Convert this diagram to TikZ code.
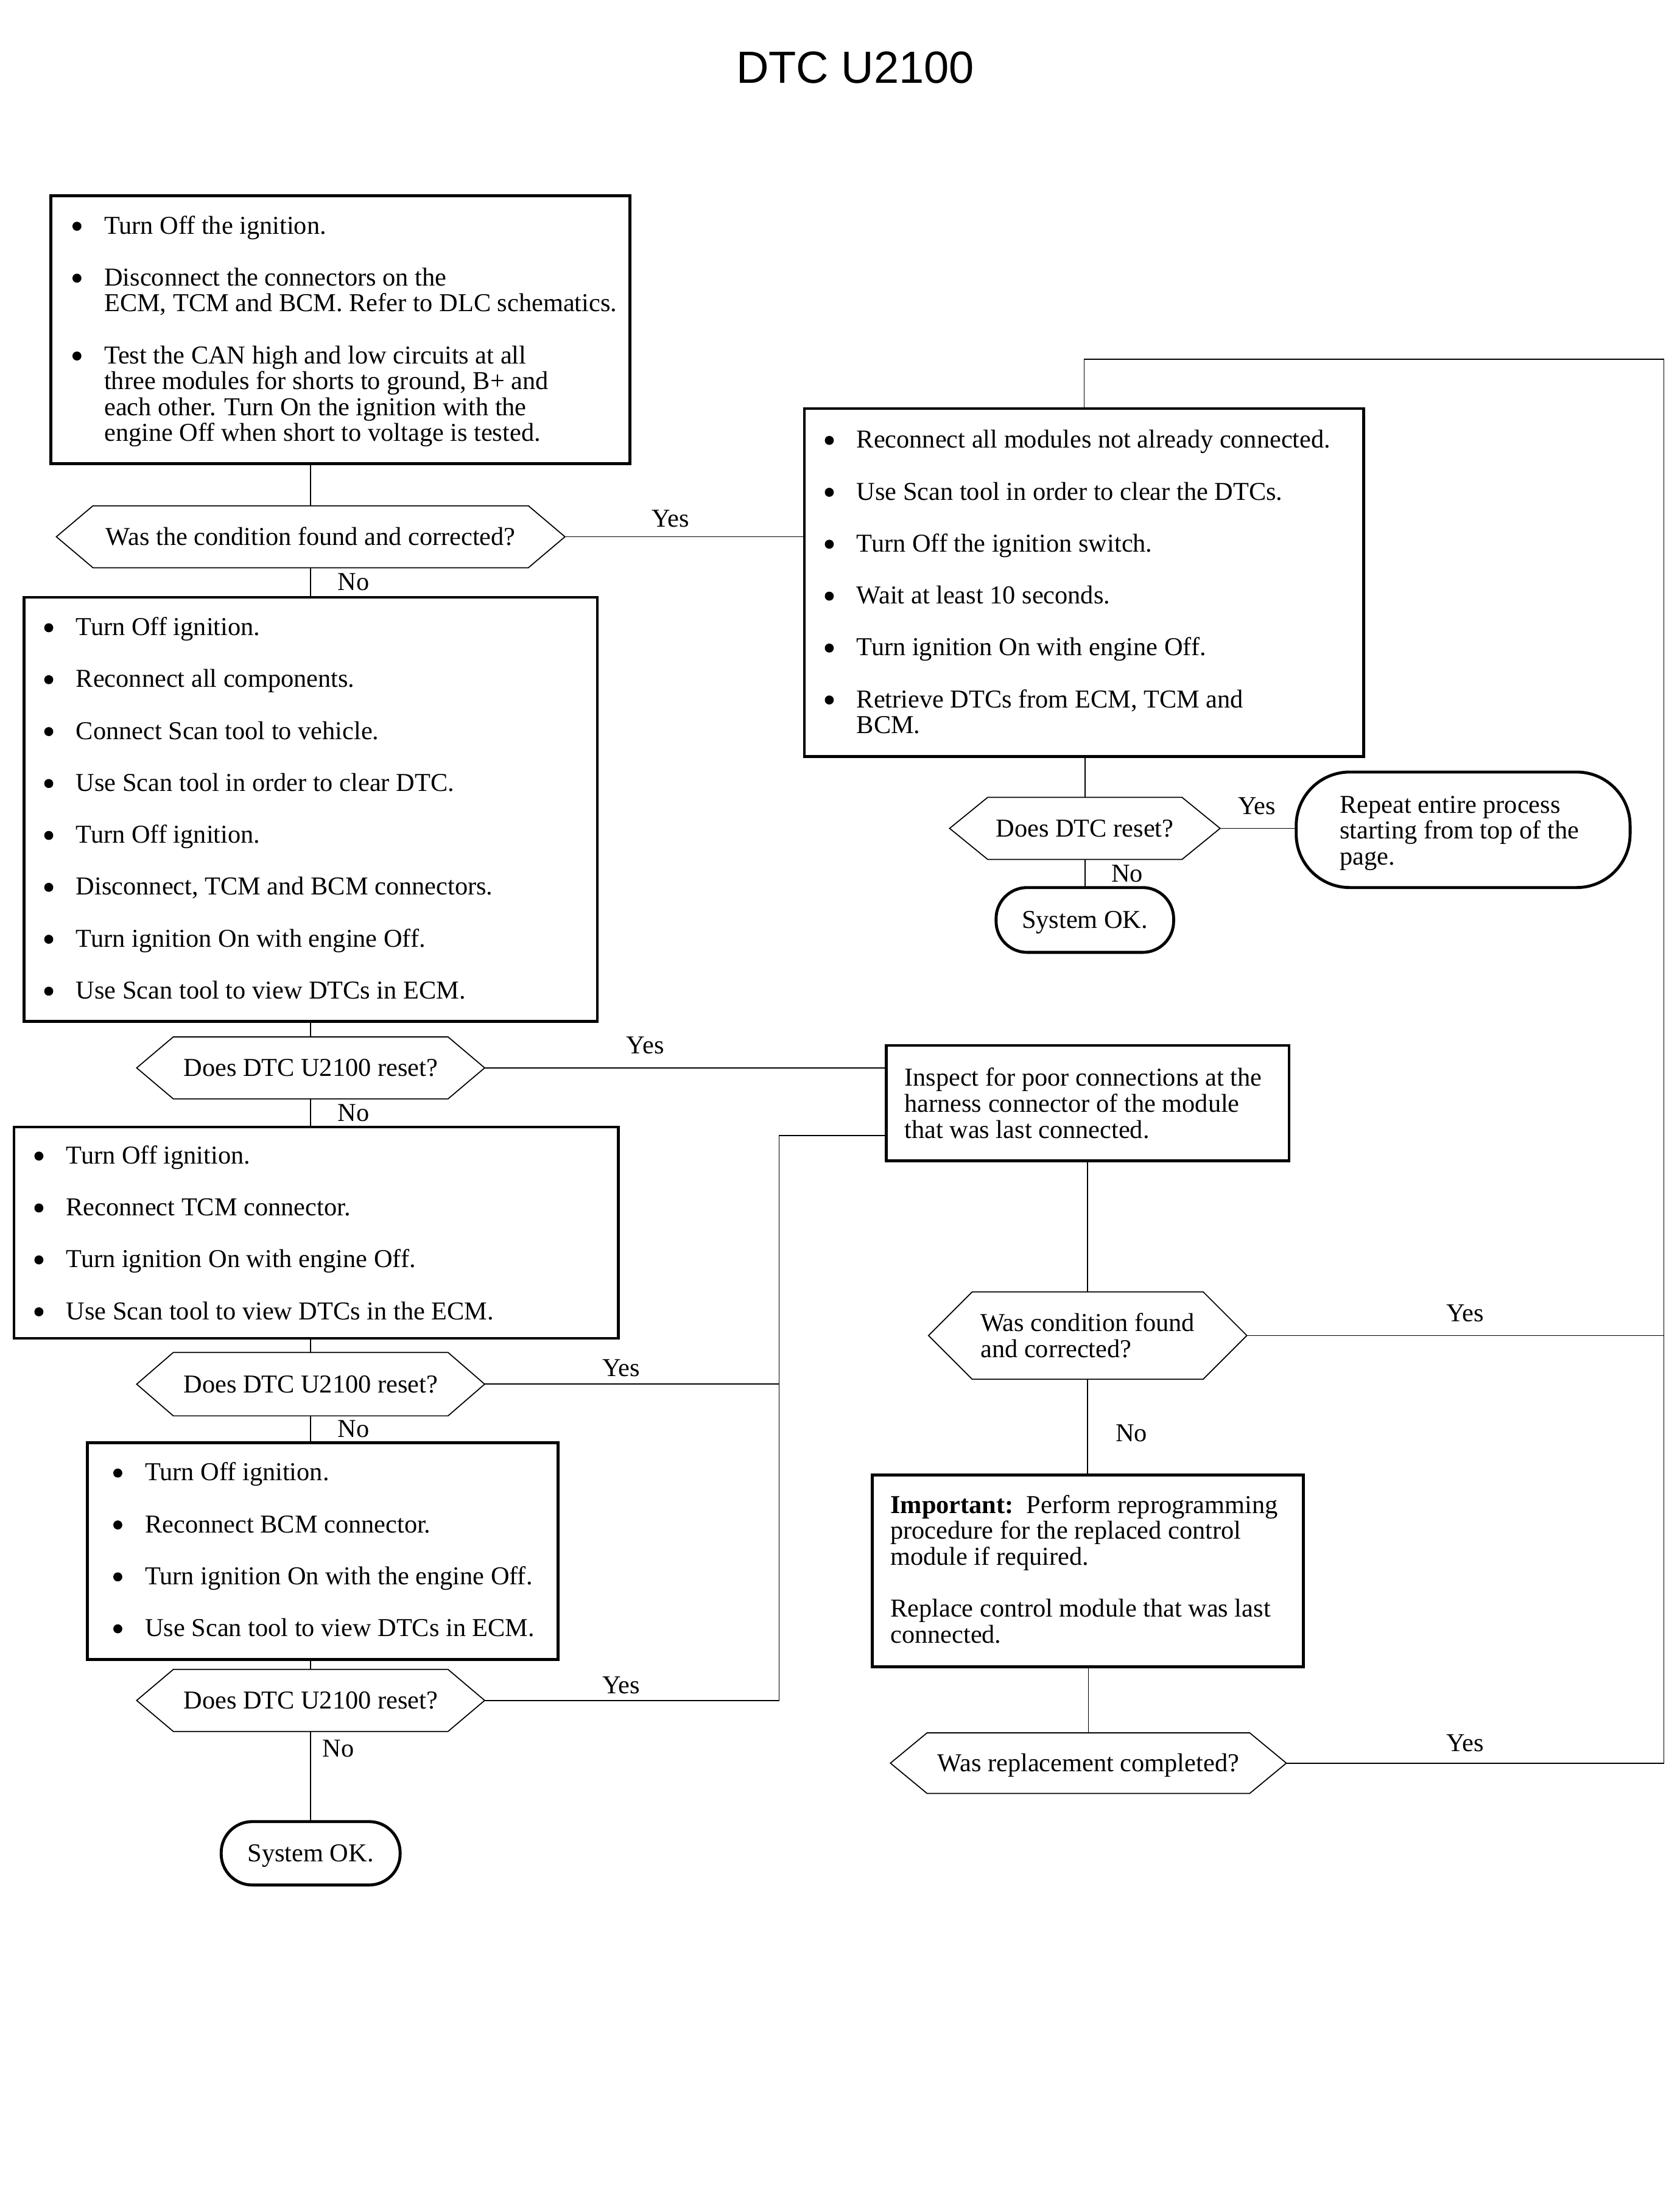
\documentclass[tikz,border=0pt]{standalone}
\usepackage{fontspec}
\setmainfont{Liberation Serif}
\newfontfamily\titlefont{Liberation Sans}
\usetikzlibrary{calc}
\newcommand\fs{\fontsize{18.3}{18.4}\selectfont}
\newcommand\bul{\makebox[23pt][l]{\hspace{0.4pt}\tikz[baseline=0pt,x=1pt,y=1pt]\fill (0,5.4) circle (3.2pt);}}
\newcommand\ind{\hspace*{23pt}}
\newcommand\gap{\\[18.45pt]}
\newcommand\hexagon[2]{\draw[hexline] (#1.west) -- ($(#1.north west)+(#2,0)$) -- ($(#1.north east)+(-#2,0)$) -- (#1.east) -- ($(#1.south east)+(-#2,0)$) -- ($(#1.south west)+(#2,0)$) -- cycle;}
\begin{document}
\begin{tikzpicture}[x=1pt,y=-1pt,
  every node/.style={inner sep=0pt,outer sep=0pt,font=\fs},
  box/.style={draw,line width=2pt,anchor=north west},
  hexn/.style={text height=12pt,text depth=0pt},
  hexline/.style={line width=0.75pt},
  stad/.style={draw,line width=2.1pt,rounded corners=#1},
  oklab/.style={text height=12pt,text depth=0pt},
  lab/.style={anchor=base},
  txt/.style={anchor=base west},
  conn/.style={line width=0.75pt}]
\fill[white] (0,0) rectangle (1192,1568);
\useasboundingbox (0,0) rectangle (1192,1568);

% title
\node[anchor=base,font=\titlefont\fontsize{32}{36}\selectfont] (title) at (607,59) {DTC U2100};

% box 1
\node[box,minimum width=411pt,minimum height=190pt] (b1) at (36,139) {};
\node[txt] (t1) at (51,166) {\begin{tabular}[t]{@{}l@{}}
\bul Turn Off the ignition.\gap
\bul Disconnect the connectors on the\\
\ind ECM, TCM and BCM. Refer to DLC schematics.\gap
\bul Test the CAN high and low circuits at all\\
\ind three modules for shorts to ground, B+ and\\
\ind each other. Turn On the ignition with the\\
\ind engine Off when short to voltage is tested.
\end{tabular}};

% hex 1
\node[hexn,minimum width=361pt,minimum height=44pt] (h1) at (220.5,381) {Was the condition found and corrected?};
\hexagon{h1}{26}
\node[lab] (yes1) at (476,374) {Yes};
\node[lab] (no1) at (251,419) {No};

% box 2
\node[box,minimum width=397pt,minimum height=247pt] (b2) at (571,290) {};
\node[txt] (t2) at (585,318) {\begin{tabular}[t]{@{}l@{}}
\bul Reconnect all modules not already connected.\gap
\bul Use Scan tool in order to clear the DTCs.\gap
\bul Turn Off the ignition switch.\gap
\bul Wait at least 10 seconds.\gap
\bul Turn ignition On with engine Off.\gap
\bul Retrieve DTCs from ECM, TCM and\\
\ind BCM.
\end{tabular}};

% hex 2
\node[hexn,minimum width=192pt,minimum height=44pt] (h2) at (770,588) {Does DTC reset?};
\hexagon{h2}{27}
\node[lab] (yes2) at (892,578) {Yes};
\node[lab] (no2) at (800,626) {No};

% repeat terminal
\node[stad=38pt,anchor=north west,minimum width=237pt,minimum height=82pt] (rep) at (920,548) {};
\node[txt] (trep) at (951,577) {\begin{tabular}[t]{@{}l@{}}
Repeat entire process\\
starting from top of the\\
page.
\end{tabular}};

% system ok 1
\node[stad=22pt,oklab,minimum width=126pt,minimum height=46pt] (ok1) at (770,653) {System OK.};

% box 3
\node[box,minimum width=407pt,minimum height=301pt] (b3) at (17,424) {};
\node[txt] (t3) at (31,451) {\begin{tabular}[t]{@{}l@{}}
\bul Turn Off ignition.\gap
\bul Reconnect all components.\gap
\bul Connect Scan tool to vehicle.\gap
\bul Use Scan tool in order to clear DTC.\gap
\bul Turn Off ignition.\gap
\bul Disconnect, TCM and BCM connectors.\gap
\bul Turn ignition On with engine Off.\gap
\bul Use Scan tool to view DTCs in ECM.
\end{tabular}};

% hex 3
\node[hexn,minimum width=247pt,minimum height=44pt] (h3) at (220.5,758) {Does DTC U2100 reset?};
\hexagon{h3}{26}
\node[lab] (yes3) at (458,748) {Yes};
\node[lab] (no3) at (251,796) {No};

% box 4
\node[box,minimum width=286pt,minimum height=82pt] (b4) at (629,742) {};
\node[txt] (t4) at (642,771) {\begin{tabular}[t]{@{}l@{}}
Inspect for poor connections at the\\
harness connector of the module\\
that was last connected.
\end{tabular}};

% box 5
\node[box,minimum width=429pt,minimum height=150pt] (b5) at (10,800) {};
\node[txt] (t5) at (24,826) {\begin{tabular}[t]{@{}l@{}}
\bul Turn Off ignition.\gap
\bul Reconnect TCM connector.\gap
\bul Turn ignition On with engine Off.\gap
\bul Use Scan tool to view DTCs in the ECM.
\end{tabular}};

% hex 4
\node[hexn,minimum width=247pt,minimum height=45pt] (h4) at (220.5,982.5) {Does DTC U2100 reset?};
\hexagon{h4}{26}
\node[lab] (yes4) at (441,977) {Yes};
\node[lab] (no4) at (251,1020) {No};

% box 6
\node[box,minimum width=334pt,minimum height=154pt] (b6) at (62,1024) {};
\node[txt] (t6) at (80,1051) {\begin{tabular}[t]{@{}l@{}}
\bul Turn Off ignition.\gap
\bul Reconnect BCM connector.\gap
\bul Turn ignition On with the engine Off.\gap
\bul Use Scan tool to view DTCs in ECM.
\end{tabular}};

% hex 5
\node[hexn,minimum width=247pt,minimum height=44pt] (h5) at (220.5,1207) {Does DTC U2100 reset?};
\hexagon{h5}{26}
\node[lab] (yes5) at (441,1202) {Yes};
\node[lab] (no5) at (240,1247) {No};

% system ok 2
\node[stad=22pt,oklab,minimum width=127pt,minimum height=45pt] (ok2) at (220.5,1315.5) {System OK.};

% hex 6
\node[minimum width=226pt,minimum height=62pt] (h6) at (772,948) {};
\hexagon{h6}{31}
\node[txt] (t6b) at (696,945) {\begin{tabular}[t]{@{}l@{}}
Was condition found\\
and corrected?
\end{tabular}};
\node[lab] (yes6) at (1040,938) {Yes};
\node[lab] (no6) at (803,1023) {No};

% box 7
\node[box,minimum width=306pt,minimum height=136pt] (b7) at (619,1047) {};
\node[txt] (t7) at (632,1074) {\begin{tabular}[t]{@{}l@{}}
\textbf{Important:}\ \ Perform reprogramming\\
procedure for the replaced control\\
module if required.\gap
Replace control module that was last\\
connected.
\end{tabular}};

% hex 7
\node[hexn,minimum width=281pt,minimum height=43pt] (h7) at (772.5,1251.5) {Was replacement completed?};
\hexagon{h7}{26}
\node[lab] (yes7) at (1040,1243) {Yes};

% junction coordinates
\coordinate (rt) at (1181,255);
\coordinate (j) at (553,806);

% connectors
\draw[conn] (h1.north) -- (h1.north |- b1.south);
\draw[conn] (h1.south) -- (h1.south |- b3.north);
\draw[conn] (h1.east) -- (h1.east -| b2.west);
\draw[conn] (b2.north) -- (b2.north |- rt) -- (rt) -- (h7.east -| rt);
\draw[conn] (h2.north) -- (h2.north |- b2.south);
\draw[conn] (h2.east) -- (h2.east -| rep.west);
\draw[conn] (h2.south) -- (h2.south |- ok1.north);
\draw[conn] (h3.north) -- (h3.north |- b3.south);
\draw[conn] (h3.east) -- (h3.east -| b4.west);
\draw[conn] (h3.south) -- (h3.south |- b5.north);
\draw[conn] (h4.north) -- (h4.north |- b5.south);
\draw[conn] (h4.east) -- (h4.east -| j);
\draw[conn] (b4.west |- j) -- (j) -- (j |- h5.east) -- (h5.east);
\draw[conn] (h4.south) -- (h4.south |- b6.north);
\draw[conn] (h5.north) -- (h5.north |- b6.south);
\draw[conn] (h5.south) -- (h5.south |- ok2.north);
\draw[conn] (h6.north) -- (h6.north |- b4.south);
\draw[conn] (h6.south) -- (h6.south |- b7.north);
\draw[conn] (h6.east) -- (h6.east -| rt);
\draw[conn] (h7.north) -- (h7.north |- b7.south);
\draw[conn] (h7.east) -- (h7.east -| rt);
\end{tikzpicture}
\end{document}
